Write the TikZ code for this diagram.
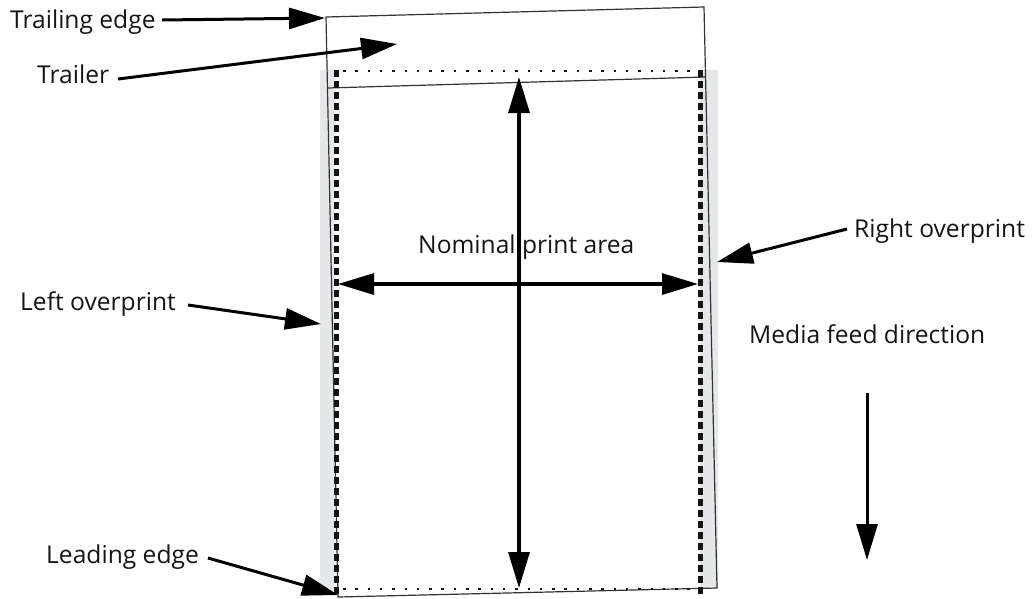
\documentclass[tikz,border=0pt]{standalone}
\usepackage{fontspec}
\setmainfont{Open Sans}
\usetikzlibrary{arrows.meta}
\definecolor{bandgray}{RGB}{230,231,233}
\definecolor{inkblack}{RGB}{20,20,20}
\begin{document}
\begin{tikzpicture}[x=1pt,y=-1pt,
  label/.style={anchor=base west,inner sep=0pt,font=\fontsize{24.6}{29}\selectfont,text=inkblack},
  pointer/.style={line width=3pt,-{Triangle[length=36pt,width=21pt]}},
  bigarrow/.style={line width=3.2pt,{Triangle[length=36pt,width=21pt]}-{Triangle[length=36pt,width=21pt]}},
  sheetline/.style={draw=black!80,line width=1.2pt},
  margin/.style={line width=5pt,draw=inkblack,dash pattern=on 7pt off 4pt},
  dotrow/.style={line width=2.5pt,draw=inkblack,dash pattern=on 2.5pt off 9.8pt}]
\useasboundingbox (0,0) rectangle (1032,598);

% overprint bands beside the nominal print area
\fill[bandgray] (320,70) rectangle (334,592);
\fill[bandgray] (700,70) rectangle (718,588);

% skewed sheet of media with its trailer
\coordinate (tl) at (326,17);
\coordinate (tr) at (704,7);
\coordinate (br) at (717,588);
\coordinate (bl) at (338,597);
\coordinate (trl) at (327.5,88);
\coordinate (trr) at (705.6,77);
\draw[sheetline] (tl) -- (tr) -- (br) -- (bl) -- cycle;
\draw[sheetline] (trl) -- (trr);

% nominal print area: dashed sides, dotted top and bottom
\coordinate (ml1) at (336,70);  \coordinate (ml2) at (336,597);
\coordinate (mr1) at (700,70);  \coordinate (mr2) at (700,597);
\draw[margin] (ml1) -- (ml2);
\draw[margin] (mr1) -- (mr2);
\coordinate (dt1) at (343,71);  \coordinate (dt2) at (697,71);
\coordinate (db1) at (343,589); \coordinate (db2) at (697,589);
\draw[dotrow] (dt1) -- (dt2);
\draw[dotrow] (db1) -- (db2);

% extent of the print area
\coordinate (vtop) at (519,77);
\coordinate (vbot) at (519,588);
\coordinate (hleft) at (338,284);
\coordinate (hright) at (698,284);
\draw[bigarrow] (vtop) -- (vbot);
\draw[bigarrow] (hleft) -- (hright);
\node[label] (npa) at (418,253) {Nominal print area};

% callouts
\node[label] (te) at (10,28) {Trailing edge};
\coordinate (tetail) at (162,20);
\coordinate (tetip) at (325,18);
\draw[pointer] (tetail) -- (tetip);

\node[label] (tra) at (37,83) {Trailer};
\coordinate (tratail) at (118,79);
\coordinate (tratip) at (397,44);
\draw[pointer] (tratail) -- (tratip);

\node[label] (ro) at (854,237) {Right overprint};
\coordinate (rotail) at (847,229);
\coordinate (rotip) at (717,262);
\draw[pointer] (rotail) -- (rotip);

\node[label] (lo) at (20,310) {Left overprint};
\coordinate (lotail) at (188,305);
\coordinate (lotip) at (321,324);
\draw[pointer] (lotail) -- (lotip);

\node[label] (le) at (46,563) {Leading edge};
\coordinate (letail) at (208,558);
\coordinate (letip) at (338,595);
\draw[pointer] (letail) -- (letip);

\node[label] (mfd) at (749,343) {Media feed direction};
\coordinate (mfdtail) at (867,393);
\coordinate (mfdtip) at (867,560);
\draw[pointer] (mfdtail) -- (mfdtip);
\end{tikzpicture}
\end{document}
